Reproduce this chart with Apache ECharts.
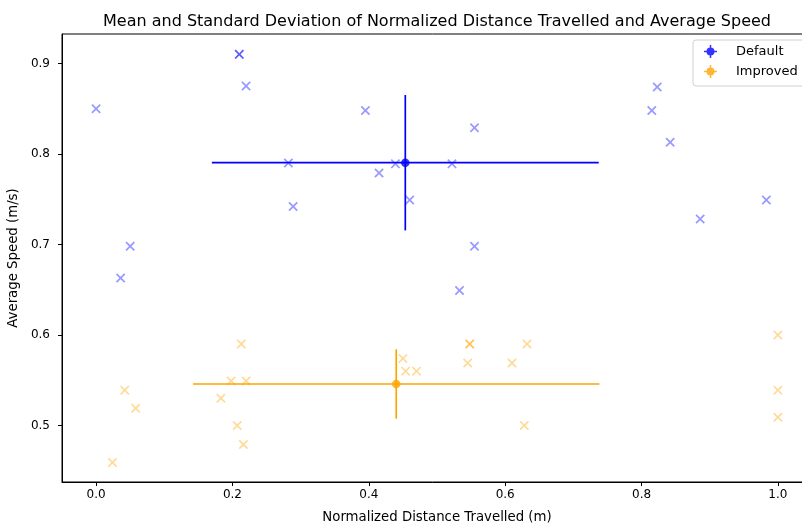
<!DOCTYPE html>
<html>
<head>
    <meta charset="utf-8">
    <title>Mean and Standard Deviation</title>
    <script src="https://cdn.jsdelivr.net/npm/echarts@6/dist/echarts.min.js"></script>
    <style type="text/css">
        html,body{margin:0;padding:0;background:#fff;}
        #main{width:802px;height:527px;}
    </style>
</head>
<body>
    <div id="main"></div>
    <script type="text/javascript">
        // raw runs (x = normalized distance, y = average speed)
        var defaultX = [0.0, 0.21, 0.21, 0.22, 0.282, 0.289, 0.05, 0.036, 0.395, 0.415, 0.439,
                        0.46, 0.522, 0.555, 0.555, 0.533, 0.815, 0.823, 0.842, 0.886, 0.983];
        var defaultY = [0.85, 0.91, 0.91, 0.875, 0.79, 0.742, 0.698, 0.663, 0.848, 0.779, 0.789,
                        0.749, 0.789, 0.829, 0.698, 0.649, 0.848, 0.874, 0.813, 0.728, 0.749];
        var improvedX = [0.213, 0.198, 0.22, 0.183, 0.207, 0.216, 0.042, 0.058, 0.024, 0.45, 0.454,
                         0.47, 0.548, 0.548, 0.545, 0.61, 0.632, 0.628, 1.0, 1.0, 1.0];
        var improvedY = [0.59, 0.549, 0.549, 0.53, 0.5, 0.479, 0.539, 0.519, 0.459, 0.574, 0.56,
                         0.56, 0.59, 0.59, 0.569, 0.569, 0.59, 0.5, 0.6, 0.539, 0.509];
        // mean and std: [meanX, meanY, stdX, stdY]
        var defaultStats = [0.4535, 0.7903, 0.2837, 0.0748];
        var improvedStats = [0.4402, 0.5458, 0.298, 0.0383];
        var xTicks = [0.0, 0.2, 0.4, 0.6, 0.8, 1.0];
        var yTicks = [0.5, 0.6, 0.7, 0.8, 0.9];

        var font = 'DejaVu Sans';
        var crossPath = 'path://M0,1.3L1.3,0L5,3.7L8.7,0L10,1.3L6.3,5L10,8.7L8.7,10L5,6.3L1.3,10L0,8.7L3.7,5Z';
        var ebIcon = 'path://M0,5.3L12,5.3L12,6.7L0,6.7Z M5.3,0L6.7,0L6.7,12L5.3,12Z M2.3,6A3.7,3.7 0 1 1 9.7,6A3.7,3.7 0 1 1 2.3,6Z';

        function zip(xs, ys){
            var out = [];
            for(var i=0;i<xs.length;i++){
                out.push([xs[i], ys[i]]);
            }
            return out;
        }

        function errorBars(color){
            return function(params, api){
                var mx = api.value(0), my = api.value(1), sx = api.value(2), sy = api.value(3);
                var l = api.coord([mx - sx, my]), r = api.coord([mx + sx, my]);
                var t = api.coord([mx, my + sy]), b = api.coord([mx, my - sy]);
                var st = {stroke: color, lineWidth: 1.7};
                return {
                    type: 'group',
                    children: [
                        {type: 'line', shape: {x1: l[0], y1: l[1], x2: r[0], y2: r[1]}, style: st},
                        {type: 'line', shape: {x1: t[0], y1: t[1], x2: b[0], y2: b[1]}, style: st}
                    ]
                };
            };
        }

        var myChart = echarts.init(document.getElementById('main'));
        var option = {
            animation: false,
            textStyle: {fontFamily: font},
            title: {
                text: 'Mean and Standard Deviation of Normalized Distance Travelled and Average Speed',
                left: 432,
                textAlign: 'center',
                top: 9,
                textStyle: {fontFamily: font, fontSize: 16, fontWeight: 'normal', color: '#000'}
            },
            legend: {
                orient: 'vertical',
                left: 693,
                top: 40,
                padding: [5, 12, 8, 11],
                itemWidth: 13,
                itemHeight: 13,
                itemGap: 7,
                borderColor: '#d0d0d0',
                borderWidth: 1,
                borderRadius: 3,
                textStyle: {fontFamily: font, fontSize: 13, lineHeight: 13, color: '#000', padding: [0, 0, 0, 14]},
                data: [
                    {name: 'Default', icon: ebIcon},
                    {name: 'Improved', icon: ebIcon}
                ]
            },
            grid: {
                left: 62, top: 34, width: 750, height: 448,
                outerBoundsMode: 'none',
                show: true, borderColor: '#000', borderWidth: 1
            },
            xAxis: {
                type: 'value',
                min: -0.05,
                max: 1.05,
                name: 'Normalized Distance Travelled (m)',
                nameLocation: 'middle',
                nameGap: 29,
                nameTextStyle: {fontFamily: font, fontSize: 13.3, color: '#000'},
                splitLine: {show: false},
                axisLine: {onZero: false, lineStyle: {color: '#000'}},
                axisTick: {length: 4, lineStyle: {color: '#000'}, customValues: xTicks},
                axisLabel: {
                    margin: 7, fontSize: 12, color: '#000', customValues: xTicks,
                    formatter: function(v){ return v.toFixed(1); }
                }
            },
            yAxis: {
                type: 'value',
                min: 0.4375,
                max: 0.9325,
                name: 'Average Speed (m/s)',
                nameLocation: 'middle',
                nameGap: 34,
                nameTextStyle: {fontFamily: font, fontSize: 13.3, color: '#000'},
                splitLine: {show: false},
                axisLine: {show: true, onZero: false, lineStyle: {color: '#000'}},
                axisTick: {show: true, length: 4, lineStyle: {color: '#000'}, customValues: yTicks},
                axisLabel: {
                    margin: 12, fontSize: 12, color: '#000', customValues: yTicks,
                    formatter: function(v){ return v.toFixed(1); }
                }
            },
            series: [
                {
                    name: 'Default runs',
                    type: 'scatter',
                    symbol: crossPath,
                    symbolSize: 9.5,
                    itemStyle: {color: 'rgba(0,0,255,0.5)'},
                    data: zip(defaultX, defaultY),
                    z: 2
                },
                {
                    name: 'Improved runs',
                    type: 'scatter',
                    symbol: crossPath,
                    symbolSize: 9.5,
                    itemStyle: {color: 'rgba(255,165,0,0.5)'},
                    data: zip(improvedX, improvedY),
                    z: 2
                },
                {
                    name: 'Default bars',
                    type: 'custom',
                    renderItem: errorBars('#0000ff'),
                    encode: {x: 0, y: 1},
                    data: [defaultStats],
                    z: 3
                },
                {
                    name: 'Improved bars',
                    type: 'custom',
                    renderItem: errorBars('#ffa500'),
                    encode: {x: 0, y: 1},
                    data: [improvedStats],
                    z: 3
                },
                {
                    name: 'Default',
                    type: 'scatter',
                    symbol: 'circle',
                    symbolSize: 8.5,
                    itemStyle: {color: '#0000ff'},
                    data: [[defaultStats[0], defaultStats[1]]],
                    z: 4
                },
                {
                    name: 'Improved',
                    type: 'scatter',
                    symbol: 'circle',
                    symbolSize: 8.5,
                    itemStyle: {color: '#ffa500'},
                    data: [[improvedStats[0], improvedStats[1]]],
                    z: 4
                }
            ]
        };
        myChart.setOption(option);
    </script>
</body>
</html>
